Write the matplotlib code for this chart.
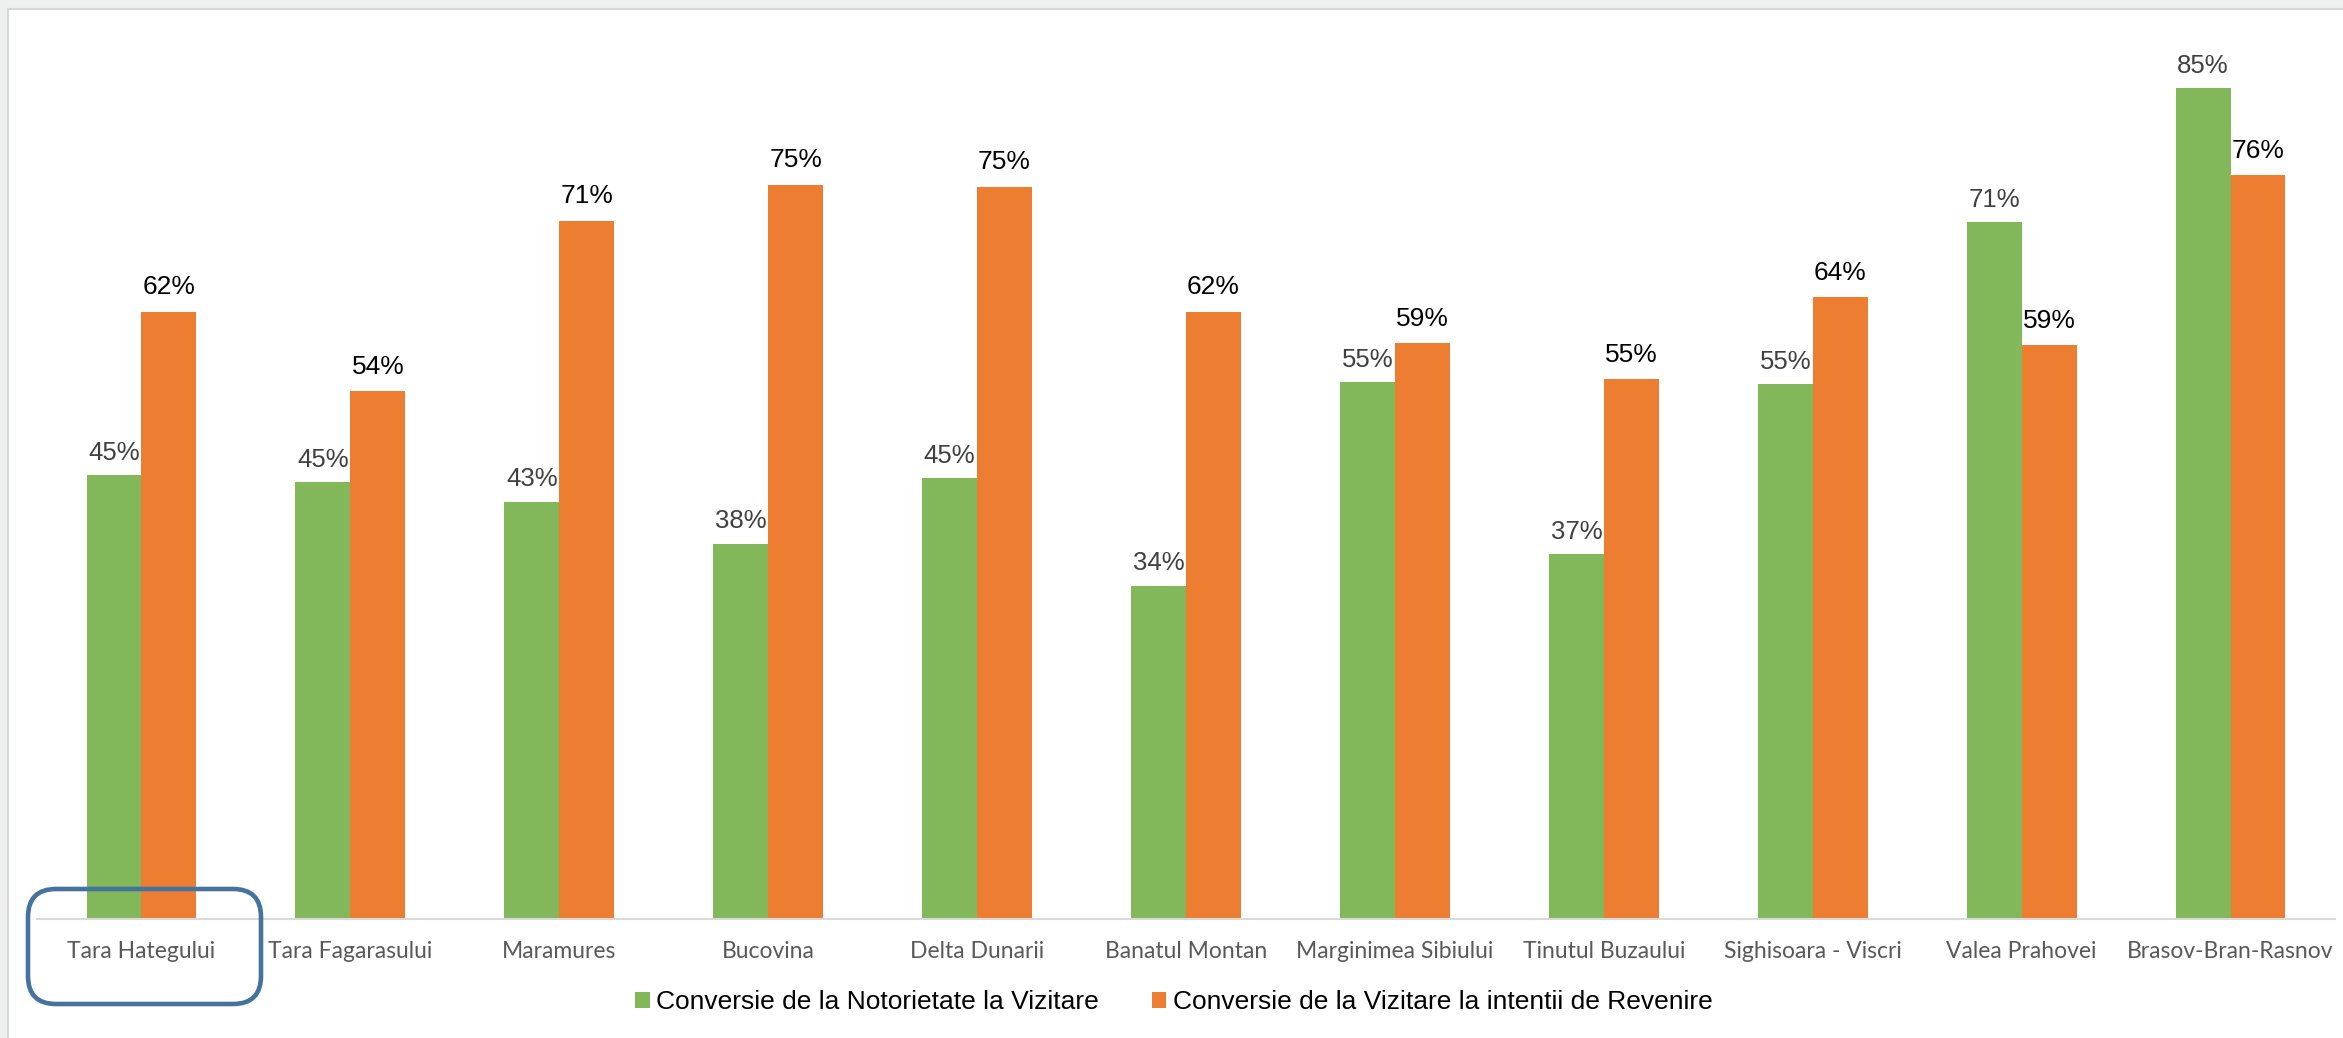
import numpy as np
import matplotlib.pyplot as plt
from matplotlib.patches import Rectangle, FancyBboxPatch

# regions and the two conversion rates (%)
regions = ["Tara Hategului", "Tara Fagarasului", "Maramures", "Bucovina",
           "Delta Dunarii", "Banatul Montan", "Marginimea Sibiului",
           "Tinutul Buzaului", "Sighisoara - Viscri", "Valea Prahovei",
           "Brasov-Bran-Rasnov"]
notorietate_vizitare = [45.4, 44.7, 42.7, 38.4, 45.1, 34.1, 54.9, 37.3, 54.7, 71.3, 85.0]
vizitare_revenire = [62.1, 54.0, 71.4, 75.1, 74.9, 62.1, 58.9, 55.2, 63.6, 58.7, 76.1]
series_names = ["Conversie de la Notorietate la Vizitare",
                "Conversie de la Vizitare la intentii de Revenire"]

GREEN = "#82b85a"
ORANGE = "#ed7d31"

W, H = 2343, 1038
fig = plt.figure(figsize=(W / 100, H / 100), dpi=100, facecolor="#eef0ef")

# white chart area with thin gray frame
panel = Rectangle((8 / 100, -0.1), (W - 8) / 100 + 0.2, (H - 9) / 100 + 0.1,
                  transform=fig.dpi_scale_trans, facecolor="white",
                  edgecolor="#d6d8d7", linewidth=1.5, zorder=0)
fig.add_artist(panel)

ax = fig.add_axes([37 / W, (H - 919) / H, 2298 / W, 910 / H])
ax.set_facecolor("none")

x = np.arange(len(regions))
w = 0.263
b1 = ax.bar(x - w / 2, notorietate_vizitare, w, color=GREEN, label=series_names[0])
b2 = ax.bar(x + w / 2, vizitare_revenire, w, color=ORANGE, label=series_names[1])

ax.bar_label(b1, labels=["{:.0f}%".format(v) for v in notorietate_vizitare],
             padding=7.5, fontsize=18.5, color="#404040", family="Liberation Sans")
ax.bar_label(b2, labels=["{:.0f}%".format(v) for v in vizitare_revenire],
             padding=9, fontsize=19, color="black", family="Liberation Sans")

ax.set_xlim(-0.5, len(regions) - 0.5)
ax.set_ylim(0, 93.08)
ax.set_yticks([])
ax.set_xticks(x)
ax.set_xticklabels(regions, fontsize=16.5, color="#595959", family="Lato")
ax.tick_params(axis="x", length=0, pad=16)
for s in ["top", "right", "left"]:
    ax.spines[s].set_visible(False)
ax.spines["bottom"].set_color("#d9d9d9")
ax.spines["bottom"].set_linewidth(1.5)

fig.legend(handles=[b1, b2], labels=series_names, loc="center",
           bbox_to_anchor=(0.5010, 0.0347), ncol=2, frameon=False,
           prop={"family": "Liberation Sans", "size": 19},
           handlelength=0.55, handleheight=0.55, handletextpad=0.25,
           columnspacing=2.0)

# highlight box around the first category
box = FancyBboxPatch((28 / 100, (H - 1004) / 100), 233 / 100, 115 / 100,
                     boxstyle="round,pad=0,rounding_size=0.28",
                     transform=fig.dpi_scale_trans, facecolor="none",
                     edgecolor="#44739e", linewidth=3.3, zorder=5)
fig.add_artist(box)

fig.savefig("out.png", dpi=100, facecolor=fig.get_facecolor())
